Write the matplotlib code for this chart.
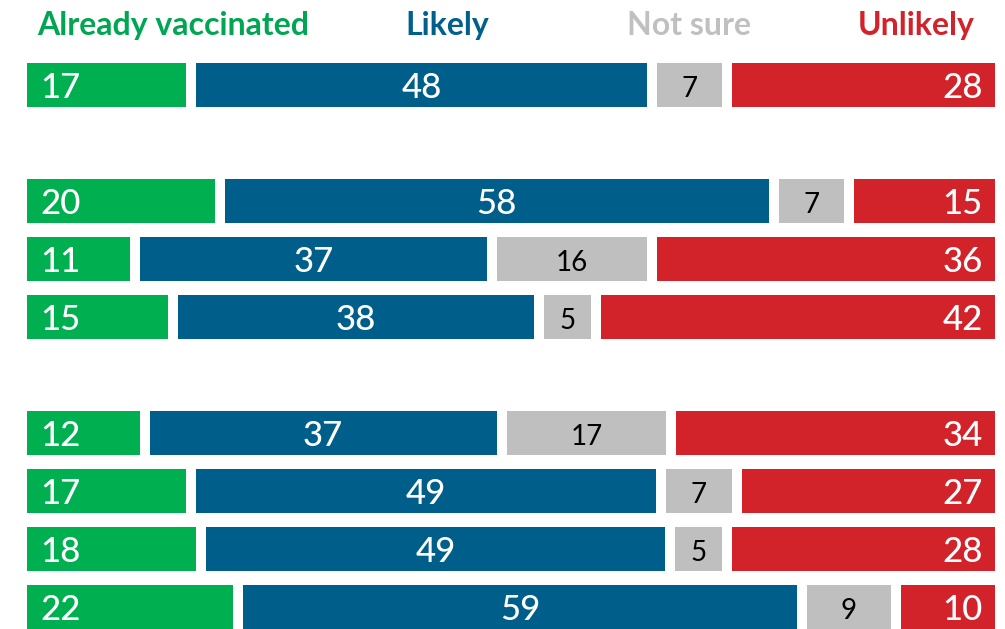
import matplotlib
matplotlib.use("Agg")
import matplotlib.pyplot as plt

# row slots (0..9), two empty slots act as group separators
rows = [0, 2, 3, 4, 6, 7, 8, 9]
vaccinated = [17, 20, 11, 15, 12, 17, 18, 22]
likely = [48, 58, 37, 38, 37, 49, 49, 59]
not_sure = [7, 7, 16, 5, 17, 7, 5, 9]
unlikely = [28, 15, 36, 42, 34, 27, 28, 10]

categories = ["Already vaccinated", "Likely", "Not sure", "Unlikely"]
colors = ["#00b050", "#005e8a", "#bfbfbf", "#d2232a"]
head_colors = ["#00a651", "#00608c", "#c0c0c0", "#d2232a"]

plt.rcParams['font.family'] = ['Lato', 'DejaVu Sans']

W, H = 1005, 629
fig = plt.figure(figsize=(W / 100, H / 100), dpi=100)
left_px, right_px = 27, 995
ax = fig.add_axes([left_px / W, 0, (right_px - left_px) / W, 1])

gap_px = 10
scale = ((right_px - left_px) - 3 * gap_px) / 100.0
gap = gap_px / scale
ax.set_xlim(0, 100 + 3 * gap)
# rows are 58 px apart, first row centred at 85 px
ax.set_ylim((H - 85) / 58, -85 / 58)
ax.axis('off')

bar_h = 44 / 58
series = [vaccinated, likely, not_sure, unlikely]
for i, r in enumerate(rows):
    x = 0
    for k, vals in enumerate(series):
        v = vals[i]
        ax.barh(r, v, left=x, height=bar_h, color=colors[k], linewidth=0)
        yb = r + 13 / 58
        if k == 0:
            ax.text(x + 13 / scale, yb, str(v), ha='left', va='baseline',
                    color='white', fontsize=25, fontweight='medium')
        elif k == 1:
            ax.text(x + v / 2, yb, str(v), ha='center', va='baseline',
                    color='white', fontsize=25, fontweight='medium')
        elif k == 2:
            ax.text(x + v / 2, r + 12 / 58, str(v), ha='center', va='baseline',
                    color='black', fontsize=20, fontweight='normal')
        else:
            ax.text(x + v - 12 / scale, yb, str(v), ha='right', va='baseline',
                    color='white', fontsize=25, fontweight='medium')
        x += v + gap

# header labels
hy = 1 - 35 / H
fs = 23
fig.text(37 / W, hy, categories[0], ha='left', va='baseline',
         color=head_colors[0], fontsize=fs, fontweight='bold')
fig.text(447 / W, hy, categories[1], ha='center', va='baseline',
         color=head_colors[1], fontsize=fs, fontweight='bold')
fig.text(689 / W, hy, categories[2], ha='center', va='baseline',
         color=head_colors[2], fontsize=fs, fontweight='bold')
fig.text(975 / W, hy, categories[3], ha='right', va='baseline',
         color=head_colors[3], fontsize=fs, fontweight='bold')

fig.savefig("out.png", dpi=100)
